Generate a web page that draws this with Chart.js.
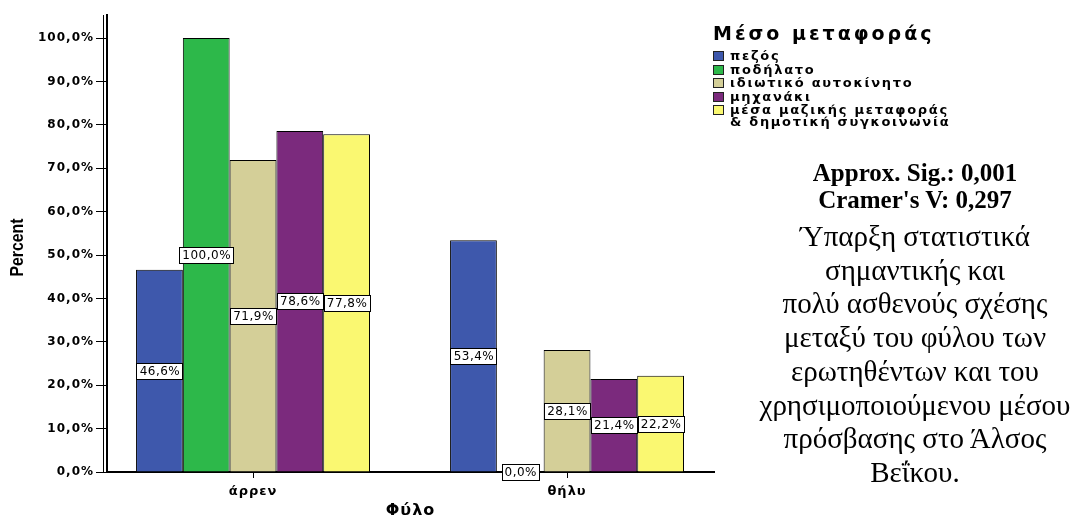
<!DOCTYPE html>
<html>
<head>
<meta charset="utf-8">
<script src="https://cdn.jsdelivr.net/npm/chart.js@4/dist/chart.umd.min.js"></script>
<style>
  html, body { margin: 0; padding: 0; background: #fff; }
  #wrap { position: relative; width: 1073px; height: 518px; overflow: hidden; }
  #chart { position: absolute; left: 0; top: 0; }
  #legend { position: absolute; left: 713px; top: 21px; font-family: "DejaVu Sans", sans-serif; color: #000; }
  #legend .ttl { font-weight: bold; font-size: 19px; letter-spacing: 3px; line-height: 24px; margin-bottom: 5px; }
  #legend .item { display: flex; align-items: flex-start; font-weight: bold; font-size: 13px; letter-spacing: 1.7px; line-height: 12px; margin-bottom: 1.5px; white-space: pre-line; }
  #legend .sw { width: 9px; height: 8px; border: 1.5px solid #222; margin-right: 6px; margin-top: 1px; flex: none; }
  #note { position: absolute; left: 715px; width: 400px; top: 159px; text-align: center; font-family: "Liberation Serif", "Times New Roman", serif; color: #000; white-space: nowrap; }
  #note .b { font-weight: bold; font-size: 25px; line-height: 27px; }
  #note .r { font-size: 29px; line-height: 33.7px; margin-top: 7px; }
</style>
</head>
<body>
<div id="wrap">
  <canvas id="chart" width="1073" height="518"></canvas>
  <div id="legend"></div>
  <div id="note">
    <div class="b">Approx. Sig.: 0,001<br>Cramer's V: 0,297</div>
    <div class="r">Ύπαρξη στατιστικά<br>σημαντικής και<br>πολύ ασθενούς σχέσης<br>μεταξύ του φύλου των<br>ερωτηθέντων και του<br>χρησιμοποιούμενου μέσου<br>πρόσβασης στο Άλσος<br>Βεΐκου.</div>
  </div>
</div>
<script>
// données
const categories = ['άρρεν', 'θήλυ'];
const seriesNames = ['πεζός', 'ποδήλατο', 'ιδιωτικό αυτοκίνητο', 'μηχανάκι', 'μέσα μαζικής μεταφοράς\n& δημοτική συγκοινωνία'];
const pezos = [46.6, 53.4];
const podilato = [100.0, 0.0];
const idiotiko = [71.9, 28.1];
const michanaki = [78.6, 21.4];
const mmm = [77.8, 22.2];
const yTicks = [0, 10, 20, 30, 40, 50, 60, 70, 80, 90, 100];
const colors = ['#3E58AC', '#2DB84A', '#D4CF98', '#7B2A7D', '#FAF871'];
const yTitle = 'Percent';

const seriesValues = [pezos, podilato, idiotiko, michanaki, mmm];

function fmt(v) {
    return v.toFixed(1).replace('.', ',') + '%';
}

// legende html
const legendEl = document.getElementById('legend');
let html = '<div class="ttl">Μέσο μεταφοράς</div>';
seriesNames.forEach((name, i) => {
    html += '<div class="item"><span class="sw" style="background:' + colors[i] + '"></span><span>' + name + '</span></div>';
});
legendEl.innerHTML = html;

// espacement des lettres pour les axes
const spacingPlugin = {
    id: 'spacing',
    beforeDraw(chart) {
        chart.ctx.letterSpacing = '1px';
    }
};

// double ligne de l'axe Y + titre Y etroit
const frameLine = {
    id: 'frameLine',
    afterDraw(chart) {
        const ctx = chart.ctx;
        const a = chart.chartArea;
        ctx.save();
        ctx.strokeStyle = '#000';
        ctx.lineWidth = 1;
        ctx.beginPath();
        ctx.moveTo(a.left - 3.5, a.top);
        ctx.lineTo(a.left - 3.5, a.bottom);
        ctx.stroke();

        ctx.letterSpacing = '0px';
        ctx.translate(18, (a.top + a.bottom) / 2 + 4);
        ctx.rotate(-Math.PI / 2);
        ctx.scale(0.88, 1);
        ctx.font = 'bold 18px "Liberation Sans"';
        ctx.fillStyle = '#000';
        ctx.textAlign = 'center';
        ctx.textBaseline = 'middle';
        ctx.fillText(yTitle, 0, 0);
        ctx.restore();
    }
};

// etiquettes des barres
const barLabels = {
    id: 'barLabels',
    afterDatasetsDraw(chart) {
        const ctx = chart.ctx;
        ctx.save();
        ctx.letterSpacing = '0.5px';
        ctx.font = '12px "DejaVu Sans"';
        ctx.textAlign = 'center';
        ctx.textBaseline = 'middle';
        chart.data.datasets.forEach((ds, i) => {
            const meta = chart.getDatasetMeta(i);
            meta.data.forEach((el, j) => {
                const txt = fmt(ds.data[j]);
                const y = (el.y + el.base) / 2;
                const w = Math.round(ctx.measureText(txt).width + 5);
                const h = 16;
                const bx = Math.round(el.x - w / 2) + 0.5;
                const by = Math.round(y - h / 2) + 0.5;
                ctx.fillStyle = '#fff';
                ctx.fillRect(bx, by, w, h);
                ctx.strokeStyle = '#000';
                ctx.lineWidth = 1;
                ctx.strokeRect(bx, by, w, h);
                ctx.fillStyle = '#000';
                ctx.fillText(txt, el.x + 0.5, y + 1);
            });
        });
        ctx.restore();
    }
};

new Chart(document.getElementById('chart'), {
    type: 'bar',
    data: {
        labels: categories,
        datasets: seriesNames.map((name, i) => ({
            label: name,
            data: seriesValues[i],
            backgroundColor: colors[i],
            borderColor: '#000',
            borderWidth: 1,
            barPercentage: 1,
            categoryPercentage: 0.745
        }))
    },
    options: {
        responsive: false,
        animation: false,
        devicePixelRatio: 1,
        layout: { padding: { top: 15, right: 359, left: 0, bottom: 0 } },
        plugins: {
            legend: { display: false },
            tooltip: { enabled: false }
        },
        scales: {
            x: {
                afterFit(scale) { scale.height = 46; },
                afterBuildTicks(scale) {
                    scale._startValue = -0.465;
                    scale._valueRange = 1.933;
                },
                grid: { drawOnChartArea: false, offset: false, tickLength: 6, color: '#000' },
                border: { display: true, color: '#000', width: 2 },
                ticks: { color: '#000', padding: 6, font: { family: 'DejaVu Sans', size: 13, weight: 'bold' } },
                title: {
                    display: true, text: 'Φύλο', color: '#000',
                    font: { family: 'DejaVu Sans', size: 16, weight: 'bold' },
                    padding: { top: 0, bottom: -2 }
                }
            },
            y: {
                min: 0,
                max: 105.3,
                afterFit(scale) { scale.width = 107; },
                afterBuildTicks(scale) {
                    scale.ticks = yTicks.map(v => ({ value: v }));
                },
                grid: { drawOnChartArea: false, tickLength: 11, color: '#000' },
                border: { display: true, color: '#000', width: 2 },
                ticks: {
                    color: '#000', padding: 2,
                    font: { family: 'DejaVu Sans', size: 12, weight: 'bold' },
                    callback: v => fmt(v)
                }
            }
        }
    },
    plugins: [spacingPlugin, frameLine, barLabels]
});
</script>
</body>
</html>
